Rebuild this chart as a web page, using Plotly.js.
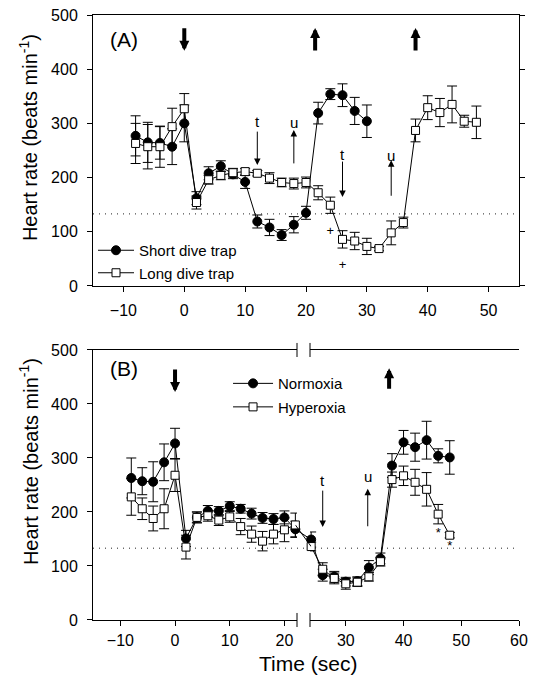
<!DOCTYPE html>
<html><head><meta charset="utf-8">
<script src="https://cdn.plot.ly/plotly-3.0.1.min.js"></script>
<style>html,body{margin:0;padding:0;background:#fff;}#chart{width:535px;height:684px;}</style>
</head><body><div id="chart"></div>
<script>
// ---------- Panel A data ----------
const timeShortA = [-8,-6,-4,-2,0,2,4,6,8,10,12,14,16,18,20,22,24,26,28,30];
const shortDive  = [277,265,264,257,300,162,208,221,206,192,119,108,94,113,135,319,354,352,323,304];
const shortErr   = [37,37,30,33,34,12,12,10,8,12,12,15,10,15,12,20,10,21,25,30];
const timeLongA  = [-8,-6,-4,-2,0,2,4,6,8,10,12,14,16,18,20,22,24,26,28,30,32,34,36,38,40,42,44,46,48];
const longDive   = [263,257,257,294,327,154,196,204,209,211,208,199,191,189,191,172,149,86,83,73,69,98,117,287,329,320,335,304,302];
const longErr    = [37,41,38,34,28,12,8,8,8,6,5,10,8,10,10,13,15,16,16,15,4,22,10,21,22,26,34,11,30];
const plusX = [24,26];
const plusY = [100,37];
// ---------- Panel B data ----------
const timeB     = [-8,-6,-4,-2,0,2,4,6,8,10,12,14,16,18,20,22,24,26,28,30,32,34,36,38,40,42,44,46,48];
const normoxia  = [263,257,256,292,327,151,190,202,202,211,206,197,189,187,190,168,149,83,80,71,72,97,114,286,329,320,333,304,301];
const normErr   = [37,25,37,34,28,15,10,10,8,8,8,10,10,10,12,15,14,11,10,8,8,13,10,22,22,26,35,13,31];
const hyperoxia = [228,206,188,206,268,135,190,193,185,191,173,159,146,159,167,176,136,94,77,67,70,80,108,260,267,255,242,196,157];
const hyperErr  = [34,20,23,37,30,22,10,10,10,10,15,15,18,18,22,22,8,12,10,10,8,8,8,14,18,24,31,18,5];
const starX = [46,48];
const starY = [159,136];
// ---------- axis ticks / reference ----------
const yTicks = [0,100,200,300,400,500];
const xTicksA = [-10,0,10,20,30,40,50];
const xTicksBLeft = [-10,0,10,20];
const xTicksBRight = [30,40,50,60];
const dottedLevel = 133;
const breakLeftEnd = 22, breakRightStart = 24;

const FONT = 'Liberation Sans, Arial, Helvetica, sans-serif';
const circleMarker = {symbol:'circle', size:9, color:'#000', line:{color:'#000', width:1}};
const squareMarker = {symbol:'square', size:8, color:'#fff', line:{color:'#000', width:1}};

function errs(arr){ return {type:'data', array:arr, visible:true, color:'#000', thickness:1, width:5}; }
function trace(x, y, e, name, marker, xa, ya, legend, showlegend){
  return {type:'scatter', mode:'lines+markers', x:x, y:y, error_y:e?errs(e):undefined, name:name,
    marker:marker, line:{color:'#000', width:1}, xaxis:xa, yaxis:ya, legend:legend,
    showlegend:showlegend, cliponaxis:false, hoverinfo:'skip'};
}
function split(t, v, e, cond){
  const o = {x:[], y:[], e:[]};
  t.forEach((ti,i)=>{ if(cond(ti)){ o.x.push(ti); o.y.push(v[i]); o.e.push(e[i]); } });
  return o;
}

const traces = [];
traces.push(trace(timeShortA, shortDive, shortErr, 'Short dive trap', circleMarker, 'x', 'y', 'legend', true));
traces.push(trace(timeLongA, longDive, longErr, 'Long dive trap', squareMarker, 'x', 'y', 'legend', true));
traces.push({type:'scatter', mode:'text', x:plusX, y:plusY, text:plusX.map(()=>'+'), textfont:{size:13, family:FONT, color:'#000'},
  xaxis:'x', yaxis:'y', showlegend:false, cliponaxis:false, hoverinfo:'skip'});

// Panel B: left and right segments of the broken axis
const series = [
  {name:'Normoxia', v:normoxia, e:normErr, m:circleMarker},
  {name:'Hyperoxia', v:hyperoxia, e:hyperErr, m:squareMarker}
];
series.forEach((s, k)=>{
  const L = split(timeB, s.v, s.e, t=>t<=breakLeftEnd);
  const R = split(timeB, s.v, s.e, t=>t>=breakRightStart);
  traces.push(Object.assign(trace(L.x, L.y, L.e, s.name, s.m, 'x2', 'y2', 'legend2', true), {legendgroup:'g'+k}));
  traces.push(Object.assign(trace(R.x, R.y, R.e, s.name, s.m, 'x3', 'y2', 'legend2', false), {legendgroup:'g'+k}));
  const i22 = timeB.indexOf(breakLeftEnd), i24 = timeB.indexOf(breakRightStart);
  traces.push({type:'scatter', mode:'lines', x:[breakLeftEnd, breakRightStart], y:[s.v[i22], s.v[i24]],
    line:{color:'#000', width:1}, xaxis:'x4', yaxis:'y2', showlegend:false, hoverinfo:'skip'});
});
traces.push({type:'scatter', mode:'text', x:starX, y:starY, text:starX.map(()=>'*'), textfont:{size:13, family:FONT, color:'#000'},
  xaxis:'x3', yaxis:'y2', showlegend:false, cliponaxis:false, hoverinfo:'skip'});

// geometry
const domA = [0.5521, 1], domB = [0, 0.4463];
const domX2 = [0, 0.4789], domX3 = [0.5094, 1];
const rX2 = [-15, 22.3], rX3 = [23.8, 60];
const f22 = domX2[0] + (breakLeftEnd - rX2[0])/(rX2[1]-rX2[0])*(domX2[1]-domX2[0]);
const f24 = domX3[0] + (breakRightStart - rX3[0])/(rX3[1]-rX3[0])*(domX3[1]-domX3[0]);

const axBase = {showgrid:false, zeroline:false, showline:true, linecolor:'#000', linewidth:1,
  ticks:'outside', ticklen:5, tickwidth:1, tickcolor:'#000', tickfont:{size:16, family:FONT, color:'#000'}};

const layout = {
  width:535, height:684, margin:{l:93, r:16, t:15, b:64},
  paper_bgcolor:'#fff', plot_bgcolor:'rgba(0,0,0,0)',
  font:{family:FONT, color:'#000', size:16},
  xaxis: Object.assign({}, axBase, {domain:[0,1], range:[-15,55], anchor:'y', tickvals:xTicksA, mirror:true, ticklabelstandoff:5}),
  yaxis: Object.assign({}, axBase, {domain:domA, range:[0,500], anchor:'x', tickvals:yTicks, mirror:'ticks', ticklabelstandoff:6}),
  xaxis2: Object.assign({}, axBase, {domain:domX2, range:rX2, anchor:'y2', tickvals:xTicksBLeft, mirror:true, ticklabelstandoff:1}),
  xaxis3: Object.assign({}, axBase, {domain:domX3, range:rX3, anchor:'y2', tickvals:xTicksBRight, mirror:true, ticklabelstandoff:1}),
  xaxis4: {domain:[f22, f24], range:[breakLeftEnd, breakRightStart], anchor:'y2', visible:false, showgrid:false, zeroline:false},
  yaxis2: Object.assign({}, axBase, {domain:domB, range:[0,500], anchor:'x2', tickvals:yTicks, ticklabelstandoff:6}),
  yaxis3: Object.assign({}, axBase, {domain:domB, range:[0,500], anchor:'x3', overlaying:'y2', side:'right', tickvals:yTicks, showticklabels:false}),
  legend: {x:0, y:0.638, xanchor:'left', yanchor:'top', bgcolor:'rgba(0,0,0,0)', borderwidth:0, itemwidth:36, font:{size:15, family:FONT, color:'#000'}, tracegroupgap:0},
  legend2: {x:0.317, y:0.418, xanchor:'left', yanchor:'top', bgcolor:'rgba(0,0,0,0)', borderwidth:0, itemwidth:40, font:{size:15, family:FONT, color:'#000'}, tracegroupgap:1},
  shapes: [
    {type:'line', xref:'x domain', x0:0, x1:1, yref:'y', y0:dottedLevel, y1:dottedLevel, layer:'below', line:{color:'#222', width:1, dash:'1px,5px'}},
    {type:'line', xref:'paper', x0:0, x1:1, yref:'y2', y0:dottedLevel, y1:dottedLevel, layer:'below', line:{color:'#222', width:1, dash:'1px,5px'}},
    {type:'line', xref:'x2 domain', x0:1, x1:1, yref:'y2 domain', y0:-0.026, y1:0.026, line:{color:'#000', width:1}},
    {type:'line', xref:'x3 domain', x0:0, x1:0, yref:'y2 domain', y0:-0.026, y1:0.026, line:{color:'#000', width:1}},
    {type:'line', xref:'x2 domain', x0:1, x1:1, yref:'y2 domain', y0:0.974, y1:1.026, line:{color:'#000', width:1}},
    {type:'line', xref:'x3 domain', x0:0, x1:0, yref:'y2 domain', y0:0.974, y1:1.026, line:{color:'#000', width:1}}
  ],
  annotations: []
};

const A = layout.annotations;
function thick(xref, yref, x, y, ay){ A.push({xref:xref, yref:yref, x:x, y:y, ax:0, ay:ay, text:'', showarrow:true, arrowhead:2, arrowwidth:4, arrowsize:0.5, arrowcolor:'#000'}); }
function thin(xref, yref, x, y, ay){ A.push({xref:xref, yref:yref, x:x, y:y, ax:0, ay:ay, text:'', showarrow:true, arrowhead:2, arrowwidth:1, arrowsize:1.3, arrowcolor:'#000'}); }
function label(xref, yref, x, y, t, size){ A.push({xref:xref, yref:yref, x:x, y:y, text:t, showarrow:false, font:{size:size, family:FONT, color:'#000'}, xanchor:'center', yanchor:'middle'}); }

// Panel A arrows
thick('x','y', 0, 434, -24);
thick('x','y', 21.5, 476, 24);
thick('x','y', 38, 476, 24);
thin('x','y', 12, 223, -35);  label('x','y', 12, 303, 't', 15);
thin('x','y', 18, 288, 35);   label('x','y', 18, 301, 'u', 15);
thin('x','y', 26, 164, -37);  label('x','y', 26, 243, 't', 15);
thin('x','y', 34, 232, 37);   label('x','y', 34, 241, 'u', 15);
// Panel B arrows
thick('x2','y2', 0, 422, -24);
thick('x3','y2', 37.5, 466, 22);
thin('x3','y2', 26, 172, -38); label('x3','y2', 26, 259, 't', 15);
thin('x3','y2', 33.8, 243, 39); label('x3','y2', 33.8, 266, 'u', 15);

// panel labels & titles
A.push({xref:'paper', yref:'paper', x:0.036, y:0.9587, xanchor:'left', yanchor:'middle', text:'(A)', showarrow:false, font:{size:21, family:FONT, color:'#000'}});
A.push({xref:'paper', yref:'paper', x:0.036, y:0.4149, xanchor:'left', yanchor:'middle', text:'(B)', showarrow:false, font:{size:21, family:FONT, color:'#000'}});
const yTitle = 'Heart rate (beats min<sup>-1</sup>)';
A.push({xref:'paper', yref:'paper', x:-0.15, y:0.7967, text:yTitle, textangle:-90, showarrow:false, xanchor:'center', yanchor:'middle', font:{size:20, family:FONT, color:'#000'}});
A.push({xref:'paper', yref:'paper', x:-0.15, y:0.2612, text:yTitle, textangle:-90, showarrow:false, xanchor:'center', yanchor:'middle', font:{size:20, family:FONT, color:'#000'}});
A.push({xref:'paper', yref:'paper', x:0.5047, y:-0.0727, text:'Time (sec)', showarrow:false, xanchor:'center', yanchor:'middle', font:{size:21, family:FONT, color:'#000'}});

Plotly.newPlot('chart', traces, layout, {displayModeBar:false, staticPlot:true});
</script>
</body></html>
